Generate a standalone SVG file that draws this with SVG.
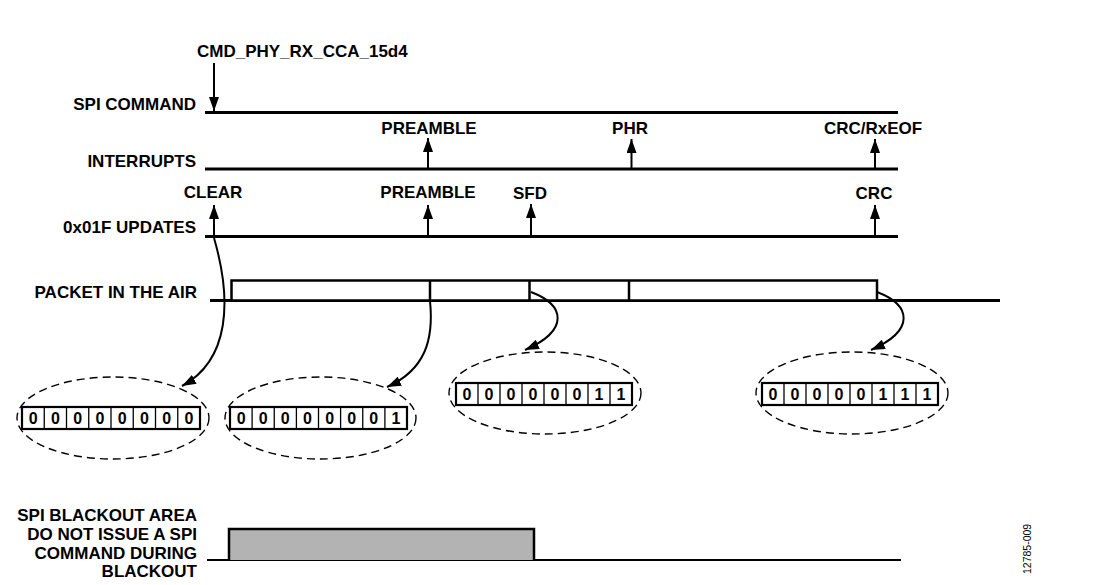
<svg xmlns="http://www.w3.org/2000/svg" width="1108" height="585" viewBox="0 0 1108 585">
<style>
  .lbl{font-family:"Liberation Sans",Arial,sans-serif;font-weight:bold;font-size:17px;fill:#000}
  .r{text-anchor:end}
  .c{text-anchor:middle}
  .tl{stroke:#000;stroke-width:3;fill:none}
  .sh{stroke:#000;stroke-width:2;fill:none}
  .cv{stroke:#000;stroke-width:2;fill:none}
  .ell{stroke:#000;stroke-width:1.4;fill:none;stroke-dasharray:8,5}
  .box{stroke:#000;stroke-width:2.2;fill:#fff}
  .div{stroke:#000;stroke-width:1.3}
  .bit{font-family:"Liberation Sans",Arial,sans-serif;font-weight:bold;font-size:16px;text-anchor:middle;fill:#000}
  .fig{font-family:"Liberation Sans",Arial,sans-serif;font-size:10.5px;fill:#000}
</style>
<defs>
  <marker id="ah" markerUnits="userSpaceOnUse" markerWidth="16" markerHeight="10" refX="14" refY="5" orient="auto">
    <path d="M0,0 L14,5 L0,10 Z" fill="#000"/>
  </marker>
</defs>
<rect width="1108" height="585" fill="#fff"/>

<g id="spi-command">
  <text class="lbl" x="197" y="57">CMD_PHY_RX_CCA_15d4</text>
  <text class="lbl r" x="196" y="110">SPI COMMAND</text>
  <line class="tl" x1="205" y1="112.5" x2="898" y2="112.5"/>
</g>

<g id="interrupts">
  <text class="lbl r" x="196" y="167">INTERRUPTS</text>
  <line class="tl" x1="205" y1="169" x2="898" y2="169"/>
  <text class="lbl c" x="429" y="134">PREAMBLE</text>
  <text class="lbl c" x="630" y="134">PHR</text>
  <text class="lbl c" x="873" y="134">CRC/RxEOF</text>
</g>

<g id="updates">
  <text class="lbl r" x="196" y="233">0x01F UPDATES</text>
  <line class="tl" x1="205" y1="236.5" x2="898" y2="236.5"/>
  <text class="lbl c" x="213" y="198">CLEAR</text>
  <text class="lbl c" x="428" y="198">PREAMBLE</text>
  <text class="lbl c" x="530" y="199">SFD</text>
  <text class="lbl c" x="874" y="199">CRC</text>
</g>

<g id="packet">
  <text class="lbl r" x="197" y="298">PACKET IN THE AIR</text>
  <line class="tl" x1="210" y1="300.5" x2="1000" y2="300.5"/>
  <rect x="231.5" y="280.5" width="645.5" height="20" fill="#fff" stroke="#000" stroke-width="2.5"/>
  <line class="sh" x1="430" y1="280.5" x2="430" y2="300.5" style="stroke-width:2.5"/>
  <line class="sh" x1="529.5" y1="280.5" x2="529.5" y2="300.5" style="stroke-width:2.5"/>
  <line class="sh" x1="629" y1="280.5" x2="629" y2="300.5" style="stroke-width:2.5"/>
</g>

<g id="reg-clear">
  <ellipse class="ell" cx="113" cy="418" rx="96" ry="41"/>
  <rect class="box" x="22" y="407" width="178" height="22"/>
  <g class="div">
    <line x1="44.25" y1="407" x2="44.25" y2="429"/><line x1="66.5" y1="407" x2="66.5" y2="429"/>
    <line x1="88.75" y1="407" x2="88.75" y2="429"/><line x1="111" y1="407" x2="111" y2="429"/>
    <line x1="133.25" y1="407" x2="133.25" y2="429"/><line x1="155.5" y1="407" x2="155.5" y2="429"/>
    <line x1="177.75" y1="407" x2="177.75" y2="429"/>
  </g>
  <g class="bit">
    <text x="33.1" y="424">0</text><text x="55.4" y="424">0</text><text x="77.6" y="424">0</text><text x="99.9" y="424">0</text>
    <text x="122.1" y="424">0</text><text x="144.4" y="424">0</text><text x="166.6" y="424">0</text><text x="188.9" y="424">0</text>
  </g>
</g>

<g id="reg-preamble">
  <ellipse class="ell" cx="320.5" cy="418" rx="95.5" ry="41"/>
  <rect class="box" x="230" y="407" width="177" height="22"/>
  <g class="div">
    <line x1="252.1" y1="407" x2="252.1" y2="429"/><line x1="274.25" y1="407" x2="274.25" y2="429"/>
    <line x1="296.4" y1="407" x2="296.4" y2="429"/><line x1="318.5" y1="407" x2="318.5" y2="429"/>
    <line x1="340.6" y1="407" x2="340.6" y2="429"/><line x1="362.75" y1="407" x2="362.75" y2="429"/>
    <line x1="384.9" y1="407" x2="384.9" y2="429"/>
  </g>
  <g class="bit">
    <text x="241.1" y="424">0</text><text x="263.2" y="424">0</text><text x="285.3" y="424">0</text><text x="307.4" y="424">0</text>
    <text x="329.6" y="424">0</text><text x="351.7" y="424">0</text><text x="373.8" y="424">0</text><text x="395.9" y="424">1</text>
  </g>
</g>

<g id="reg-sfd">
  <ellipse class="ell" cx="545" cy="393" rx="96" ry="41"/>
  <rect class="box" x="456" y="383" width="176" height="22"/>
  <g class="div">
    <line x1="478" y1="383" x2="478" y2="405"/><line x1="500" y1="383" x2="500" y2="405"/>
    <line x1="522" y1="383" x2="522" y2="405"/><line x1="544" y1="383" x2="544" y2="405"/>
    <line x1="566" y1="383" x2="566" y2="405"/><line x1="588" y1="383" x2="588" y2="405"/>
    <line x1="610" y1="383" x2="610" y2="405"/>
  </g>
  <g class="bit">
    <text x="467" y="400">0</text><text x="489" y="400">0</text><text x="511" y="400">0</text><text x="533" y="400">0</text>
    <text x="555" y="400">0</text><text x="577" y="400">0</text><text x="599" y="400">1</text><text x="621" y="400">1</text>
  </g>
</g>

<g id="reg-crc">
  <ellipse class="ell" cx="852" cy="393" rx="96" ry="41"/>
  <rect class="box" x="762" y="383" width="176" height="22"/>
  <g class="div">
    <line x1="784" y1="383" x2="784" y2="405"/><line x1="806" y1="383" x2="806" y2="405"/>
    <line x1="828" y1="383" x2="828" y2="405"/><line x1="850" y1="383" x2="850" y2="405"/>
    <line x1="872" y1="383" x2="872" y2="405"/><line x1="894" y1="383" x2="894" y2="405"/>
    <line x1="916" y1="383" x2="916" y2="405"/>
  </g>
  <g class="bit">
    <text x="773" y="400">0</text><text x="795" y="400">0</text><text x="817" y="400">0</text><text x="839" y="400">0</text>
    <text x="861" y="400">0</text><text x="883" y="400">1</text><text x="905" y="400">1</text><text x="927" y="400">1</text>
  </g>
</g>

<g id="blackout">
  <text class="lbl r" x="197" y="521">SPI BLACKOUT AREA</text>
  <text class="lbl r" x="197" y="540">DO NOT ISSUE A SPI</text>
  <text class="lbl r" x="197" y="558.5">COMMAND DURING</text>
  <text class="lbl r" x="197" y="577">BLACKOUT</text>
  <line class="sh" x1="207" y1="560" x2="901" y2="560"/>
  <path d="M229,560 V529 H534 V560" fill="#b3b3b3" stroke="#000" stroke-width="2.5"/>
</g>

<g id="connectors">
  <line class="sh" x1="214" y1="63" x2="214" y2="111" marker-end="url(#ah)"/>
  <line class="sh" x1="428" y1="169" x2="428" y2="138" marker-end="url(#ah)"/>
  <line class="sh" x1="631.5" y1="169" x2="631.5" y2="139" marker-end="url(#ah)"/>
  <line class="sh" x1="875" y1="169" x2="875" y2="139" marker-end="url(#ah)"/>
  <line class="sh" x1="214" y1="236" x2="214" y2="205" marker-end="url(#ah)"/>
  <line class="sh" x1="428" y1="236" x2="428" y2="205" marker-end="url(#ah)"/>
  <line class="sh" x1="531" y1="236" x2="531" y2="204" marker-end="url(#ah)"/>
  <line class="sh" x1="875" y1="236" x2="875" y2="205" marker-end="url(#ah)"/>
  <path class="cv" d="M214,238 C232,300 230,360 182,386" marker-end="url(#ah)"/>
  <path class="cv" d="M430,301 C434,340 425,370 387,387" marker-end="url(#ah)"/>
  <path class="cv" d="M531,292 C565,305 570,330 525,350" marker-end="url(#ah)"/>
  <path class="cv" d="M877,292 C911,305 916,330 871,350" marker-end="url(#ah)"/>
</g>

<text class="fig" transform="translate(1031,574) rotate(-90)">12785-009</text>
</svg>
